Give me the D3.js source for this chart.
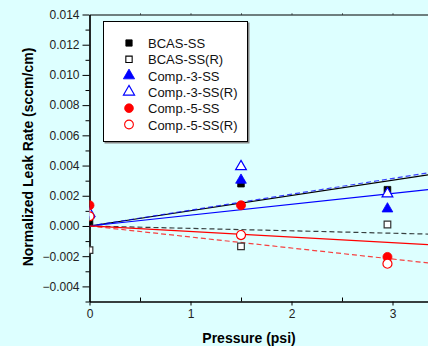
<!DOCTYPE html>
<html>
  <head>
    <meta charset="utf-8">
    <title>Normalized leak rate</title>
    <script src="https://cdn.jsdelivr.net/npm/d3@7"></script>
    <style>
      body { margin: 0; background: #ddffff; }
      #chart { display: block; font-family: "Liberation Sans", Arial, sans-serif; }
      .tick text { font-size: 12px; fill: #222; }
    </style>
  </head>
  <body>
    <svg id="chart" width="428" height="346"></svg>

    <script>
      // data
      pressures = [0, 1.5, 2.95];
      seriesNames = ["BCAS-SS", "BCAS-SS(R)", "Comp.-3-SS", "Comp.-3-SS(R)", "Comp.-5-SS", "Comp.-5-SS(R)"];
      bcasSS = [0.0003, 0.0028, 0.0024];
      bcasSSR = [-0.0016, -0.00135, 0.0001];
      comp3SS = [0.0008, 0.0031, 0.0012];
      comp3SSR = [0.0009, 0.0040, 0.0022];
      comp5SS = [0.00137, 0.00137, -0.00205];
      comp5SSR = [0.00064, -0.0006, -0.0025];
      // fitted slopes through origin (per psi)
      fitSlopes = [0.00101, -0.00016, 0.00072, 0.00105, -0.00037, -0.00073];
      xTicks = [0, 1, 2, 3];
      yTicks = [-0.004, -0.002, 0, 0.002, 0.004, 0.006, 0.008, 0.010, 0.012, 0.014];

      series = [
        { name: seriesNames[0], values: bcasSS, slope: fitSlopes[0], color: "#000", shape: "square", open: false, dash: null },
        { name: seriesNames[1], values: bcasSSR, slope: fitSlopes[1], color: "#000", shape: "square", open: true, dash: "5,3" },
        { name: seriesNames[2], values: comp3SS, slope: fitSlopes[2], color: "#0000ff", shape: "triangle", open: false, dash: null },
        { name: seriesNames[3], values: comp3SSR, slope: fitSlopes[3], color: "#0000ff", shape: "triangle", open: true, dash: "5,3" },
        { name: seriesNames[4], values: comp5SS, slope: fitSlopes[4], color: "#ff0000", shape: "circle", open: false, dash: null },
        { name: seriesNames[5], values: comp5SSR, slope: fitSlopes[5], color: "#ff0000", shape: "circle", open: true, dash: "5,3" }
      ];

      margin = { top: 14.5, right: 0, bottom: 44.5, left: 89.5 };
      width = 428;
      height = 346;

      chart = d3.select("#chart");

      x = d3.scaleLinear()
        .domain([0, (width - margin.left) / 101])
        .range([margin.left, width]);
      y = d3.scaleLinear()
        .domain([-0.005, 0.014])
        .range([height - margin.bottom, margin.top]);

      chart.append("defs").append("clipPath")
          .attr("id", "plotClip")
        .append("rect")
          .attr("x", margin.left)
          .attr("y", margin.top - 10)
          .attr("width", width - margin.left)
          .attr("height", height - margin.bottom - margin.top + 20);

      // axes
      xAxis = d3.axisBottom(x)
        .tickValues(xTicks)
        .tickFormat(d3.format("d"))
        .tickSize(4)
        .tickSizeOuter(0)
        .tickPadding(4);
      xMinor = d3.axisBottom(x)
        .tickValues([0.5, 1.5, 2.5])
        .tickFormat("")
        .tickSize(-4)
        .tickSizeOuter(0);
      yAxis = d3.axisLeft(y)
        .tickValues(yTicks)
        .tickFormat(d3.format(".3f"))
        .tickSize(7)
        .tickSizeOuter(0)
        .tickPadding(3);
      yMinor = d3.axisLeft(y)
        .tickValues(d3.range(-5, 14, 2).map(function(d) { return d / 1000; }))
        .tickFormat("")
        .tickSize(4)
        .tickSizeOuter(0);
      topAxis = d3.axisTop(x)
        .tickValues([0.5, 1, 1.5, 2, 2.5, 3])
        .tickFormat("")
        .tickSize(1)
        .tickSizeOuter(0);

      chart.append("g")
        .attr("transform", "translate(0," + (height - margin.bottom) + ")")
        .call(xAxis);
      chart.append("g")
        .attr("transform", "translate(0," + (height - margin.bottom) + ")")
        .call(xMinor);
      chart.append("g")
        .attr("transform", "translate(" + margin.left + ",0)")
        .call(yAxis);
      chart.append("g")
        .attr("transform", "translate(" + margin.left + ",0)")
        .call(yMinor);
      chart.append("g")
        .attr("transform", "translate(0," + margin.top + ")")
        .call(topAxis);

      chart.selectAll(".domain").attr("stroke", "#000").attr("stroke-width", 1.2);
      chart.selectAll(".tick line").attr("stroke", "#000");

      // axis titles
      chart.append("text")
        .attr("x", 249)
        .attr("y", 343)
        .attr("text-anchor", "middle")
        .style("font-weight", "bold")
        .style("font-size", "14px")
        .text("Pressure (psi)");
      chart.append("text")
        .attr("transform", "translate(33," + 157 + ") rotate(-90)")
        .attr("text-anchor", "middle")
        .style("font-weight", "bold")
        .style("font-size", "14px")
        .text("Normalized Leak Rate (sccm/cm)");

      plot = chart.append("g").attr("clip-path", "url(#plotClip)");

      // fit lines through the origin
      plot.selectAll(".fit")
        .data(series)
        .enter().append("line")
          .classed("fit", true)
          .attr("x1", x(0))
          .attr("y1", y(0))
          .attr("x2", x(x.domain()[1]))
          .attr("y2", function(d) { return y(d.slope * x.domain()[1]); })
          .attr("stroke", function(d) { return d.color; })
          .attr("stroke-width", 1.2)
          .attr("stroke-dasharray", function(d) { return d.dash; })
          .attr("stroke-opacity", function(d) { return d.dash ? 0.75 : 1; });

      symbolFor = function(shape, size) {
        if (shape === "square") return d3.symbol().type(d3.symbolSquare).size(size || 44)();
        if (shape === "triangle") return d3.symbol().type(d3.symbolTriangle).size(size || 50)();
        return d3.symbol().type(d3.symbolCircle).size(size || 64)();
      };

      // markers
      series.forEach(function(s) {
        plot.selectAll(null)
          .data(s.values)
          .enter().append("path")
            .attr("d", symbolFor(s.shape))
            .attr("transform", function(d, i) {
              var dy = s.shape === "triangle" ? 1 : 0;
              return "translate(" + x(pressures[i]) + "," + (y(d) + dy) + ")";
            })
            .attr("fill", s.open ? "#fff" : s.color)
            .attr("stroke", s.shape === "square" && s.open ? "#333" : s.color)
            .attr("stroke-width", s.open ? 1.2 : 0.8);
      });

      // legend
      legend = chart.append("g").attr("transform", "translate(103,21)");
      legend.append("rect")
        .attr("x", 1.5)
        .attr("y", 1.5)
        .attr("width", 145)
        .attr("height", 121)
        .attr("fill", "#888");
      legend.append("rect")
        .attr("x", 0.5)
        .attr("y", 0.5)
        .attr("width", 144)
        .attr("height", 120)
        .attr("fill", "#fff")
        .attr("stroke", "#000")
        .attr("stroke-width", 1);
      items = legend.selectAll(".item")
        .data(series)
        .enter().append("g")
          .classed("item", true)
          .attr("transform", function(d, i) { return "translate(26," + (22 + i * 16.3) + ")"; });
      items.append("path")
        .attr("d", function(d) { return symbolFor(d.shape, d.shape === "square" ? 40 : (d.shape === "triangle" ? 55 : 60)); })
        .attr("fill", function(d) { return d.open ? "#fff" : d.color; })
        .attr("stroke", function(d) { return d.color; })
        .attr("stroke-width", function(d) { return d.open ? 1.1 : 0.8; });
      items.append("text")
        .attr("x", 19)
        .attr("y", 5)
        .style("font-size", "13px")
        .attr("fill", "#111")
        .text(function(d) { return d.name; });
    </script>
  </body>
</html>
